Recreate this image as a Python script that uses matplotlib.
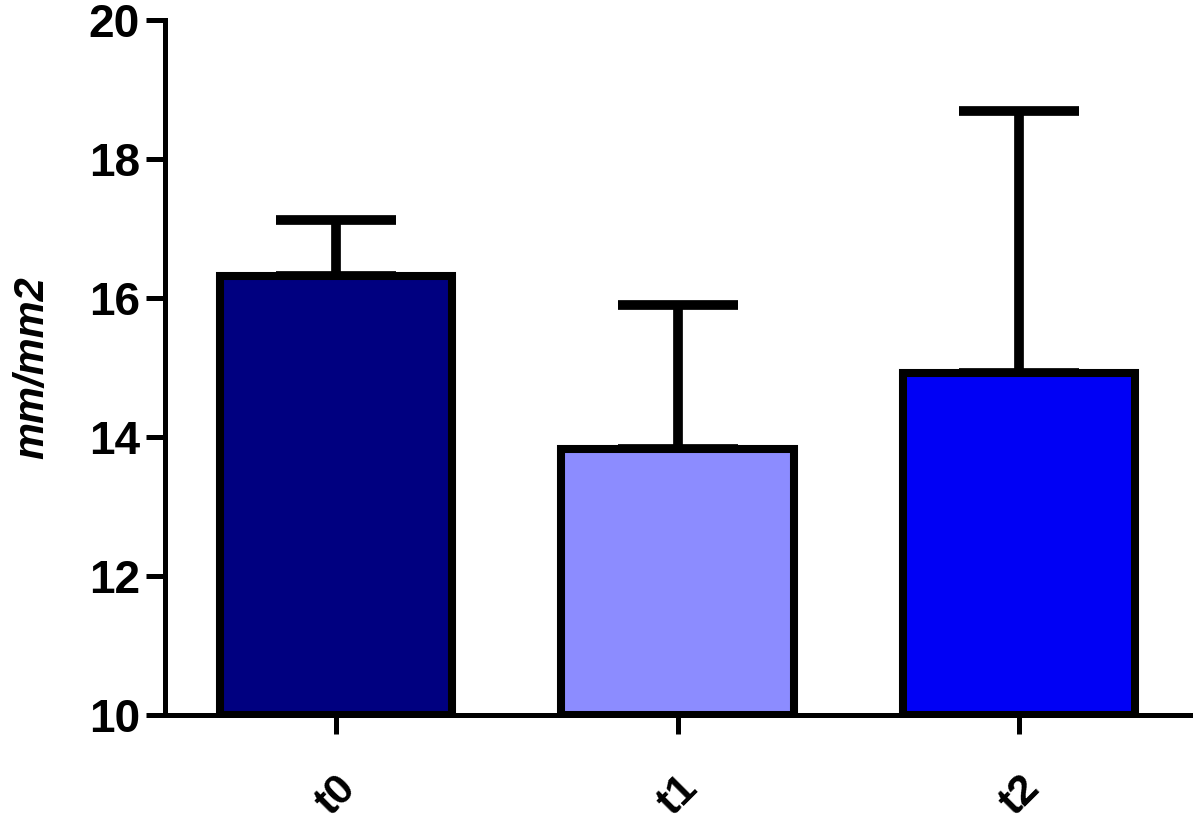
import matplotlib
matplotlib.use("Agg")
import matplotlib.pyplot as plt

groups = ["t0", "t1", "t2"]
means = [16.32, 13.82, 14.92]
sem = [0.80, 2.08, 3.77]
colors = ["#000080", "#8c8cff", "#0000f5"]

plt.rcParams['font.family'] = ['Liberation Sans', 'DejaVu Sans']

fig = plt.figure(figsize=(12, 8.26), dpi=100)
ax = fig.add_axes([0.1375, 0.1344, 0.8542, 0.8416])

x = range(len(groups))
ax.bar(x, [m - 10 for m in means], bottom=10, width=0.68, color=colors,
       edgecolor="black", linewidth=5.8, zorder=3)
ax.errorbar(x, means, yerr=[[0] * len(sem), sem], fmt="none", ecolor="black",
            elinewidth=7, capsize=43, capthick=7, zorder=2)

ax.set_xlim(-0.5, 2.5)
ax.set_ylim(10, 20)
ax.set_yticks([10, 12, 14, 16, 18, 20])
ax.set_xticks(list(x))
ax.set_xticklabels(groups, rotation=45, ha="right", rotation_mode="anchor",
                   fontsize=31, fontweight="bold")
for lab in ax.get_yticklabels():
    lab.set_fontsize(33)
    lab.set_fontweight("bold")

ax.spines["top"].set_visible(False)
ax.spines["right"].set_visible(False)
ax.spines["left"].set_linewidth(3.6)
ax.spines["bottom"].set_linewidth(3.6)
ax.tick_params(axis="both", direction="out", length=14, width=3.6, pad=4)
ax.tick_params(axis="x", pad=24)

ax.set_ylabel("mm/mm2", fontsize=30, fontweight="bold", fontstyle="italic",
              labelpad=26)

fig.savefig("out.png", dpi=100)
